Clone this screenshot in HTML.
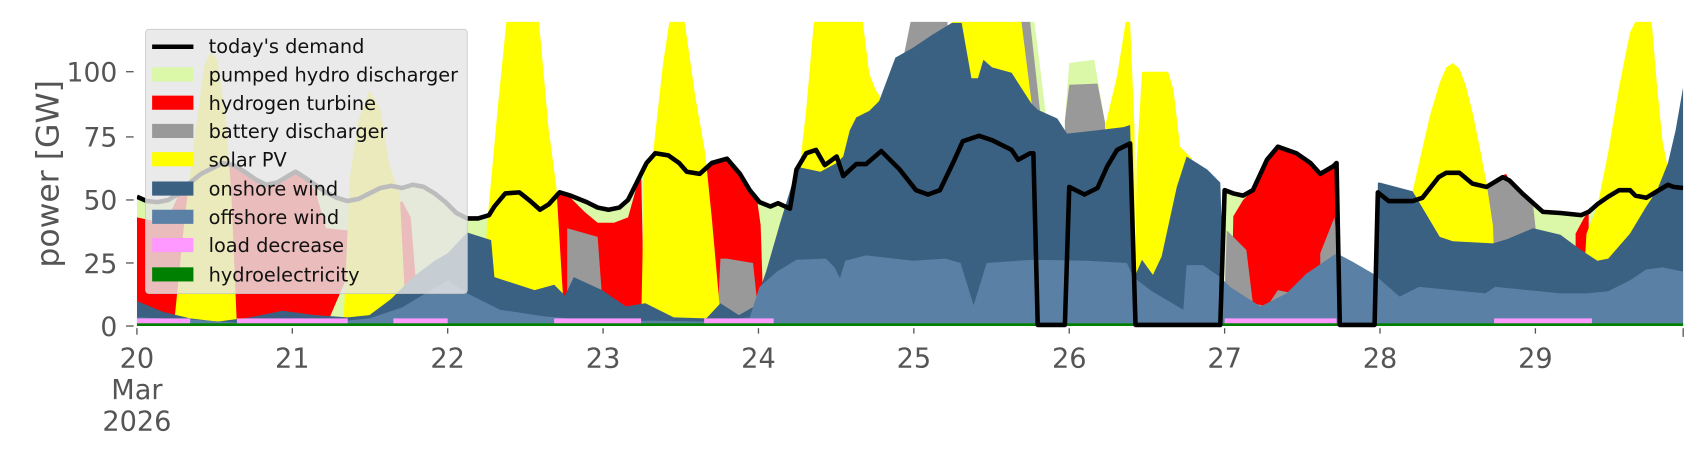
<!DOCTYPE html>
<html><head><meta charset="utf-8"><style>
html,body{margin:0;padding:0;background:#fff;}
svg{display:block;}
text{font-family:"DejaVu Sans","Liberation Sans",sans-serif;}
</style></head><body>
<svg width="1706" height="460" viewBox="0 0 1570 423.3" preserveAspectRatio="none" xmlns="http://www.w3.org/2000/svg">
<defs><clipPath id="pa"><rect x="126" y="20" width="1423" height="282"/></clipPath></defs>
<g clip-path="url(#pa)">
<g fill="#dbf7a8">
<polygon points="126,300 126,181 135,185 145,186 155,184 165,178 175,168 185,160 195,155 205,150 215,152 225,158 235,165 245,170 255,168 265,162 272,158 280,163 290,170 300,177 310,182 320,185 330,183 340,178 350,173 360,171 370,173 380,170 390,172 400,178 410,186 420,196 430,201 440,201 450,198 455,190 465,178 478,177 488,185 497,193 505,188 515,177 525,180 540,186 550,191 560,193 570,191 578,184 585,170 595,150 603,141 615,143 625,150 632,158 644,160 655,150 669,146 681,160 690,175 699,186 709,190 716,187 727,192 733,156 742,141 751,138 759,152 770,144 776,162 788,151 797,151 811,139 828,156 843,175 854,179 865,175 877,150 886,130 901,125 913,129 931,138 937,147 948,141 951,141 953,300"/>
<polygon points="984,300 984,172 998,179 1010,173 1019,153 1028,138 1040,132 1042,300"/>
<polygon points="1127,300 1127,175 1135,178 1144,180 1153,175 1166,147 1176,135 1193,141 1206,150 1215,160 1227,153 1230,150 1232,300"/>
<polygon points="1268,300 1268,177 1278,185 1300,185 1309,182 1324,163 1331,159 1343,159 1355,169 1368,172 1383,163 1389,166 1401,178 1420,195 1436,196 1455,198 1462,195 1470,188 1480,181 1490,175 1500,175 1505,180 1515,182 1525,176 1535,170 1540,172 1549,173 1549,300"/>
<polygon points="980,300 980,111 984,58 1007,55 1017,113 1017,300"/>
<polygon points="945,20 952,20 962,101 962,300 945,300"/>
</g>
<g fill="#ff0000">
<polygon points="126,300 126,200 140,203 155,200 165,178 175,168 185,160 195,155 205,150 215,152 225,158 235,165 245,170 255,168 265,162 272,158 280,163 290,175 300,210 320,212 330,230 300,300"/>
<polygon points="360,300 362,190 370,185 378,200 386,300"/>
<polygon points="510,300 512,178 525,182 538,195 550,205 565,205 578,200 585,175 590,156 593,300"/>
<polygon points="645,300 645,160 655,150 669,146 681,160 690,175 697,186 700,207 703,300"/>
<polygon points="1133,300 1135,199 1144,184 1153,175 1166,147 1176,135 1193,141 1206,150 1215,160 1227,153 1230,150 1233,300"/>
<polygon points="1377,300 1377,164 1386,160 1394,174 1394,300"/>
<polygon points="1450,300 1450,215 1458,200 1462,195 1462,300"/>
</g>
<g fill="#999999">
<polygon points="522,300 522,210 550,218 556,300"/>
<polygon points="660,300 663,238 669,238 693,242 697,280 697,300"/>
<polygon points="830,300 830,60 838,20 872,20 875,300"/>
<polygon points="937,300 937,20 948,20 957,101 957,300"/>
<polygon points="980,300 980,111 984,78 1010,77 1017,113 1017,300"/>
<polygon points="1126,300 1129,212 1147,230 1153,279 1166,282 1176,267 1190,270 1190,300"/>
<polygon points="1215,300 1215,233 1228,200 1232,235 1232,300"/>
<polygon points="1365,300 1365,172 1368,172 1383,163 1389,166 1401,178 1411,190 1414,218 1405,300"/>
</g>
<g fill="#ffff00">
<polygon points="160,300 170,200 180,120 188,60 194,48 200,55 208,110 213,180 218,300"/>
<polygon points="316,300 322,163 330,110 340,83 350,100 358,150 368,181 374,300"/>
<polygon points="445,300 448,209 458,100 466,20 496,20 505,120 512,172 517,255 520,300"/>
<polygon points="590,300 593,150 601,141 610,60 616,20 630,20 640,90 649,141 655,200 663,290 663,300"/>
<polygon points="733,300 736,153 742,100 749,20 794,20 800,68 806,83 810,89 810,300"/>
<polygon points="876,300 876,20 940,20 950,100 950,300"/>
<polygon points="1015,300 1017,116 1028,70 1036,20 1040,20 1044,117 1045,300"/>
<polygon points="1044,300 1046,150 1051,66 1075,66 1080,83 1086,135 1097,146 1100,300"/>
<polygon points="1300,300 1300,176 1316,106 1325,76 1331,62 1337,58 1343,63 1349,79 1356,107 1362,137 1368,168 1374,208 1377,300"/>
<polygon points="1455,300 1460,215 1470,190 1480,140 1490,80 1500,30 1505,20 1520,20 1525,80 1530,130 1536,160 1536,300"/>
</g>
<polygon fill="#3b6182" points="126,300 126,277 150,287 175,293 200,296 230,292 260,286 290,290 320,292 340,290 360,275 380,255 400,240 412,233 430,214 452,221 455,255 492,267 510,262 520,272 528,255 554,267 576,282 594,279 620,292 650,293 663,279 680,290 694,282 705,250 718,205 733,156 736,154 755,158 770,150 776,144 782,120 788,108 800,102 809,93 824,53 840,44 858,32 876,21 885,21 894,72 900,72 905,55 913,62 931,67 949,95 955,101 973,109 982,123 1009,120 1034,117 1040,115 1044,255 1051,239 1061,253 1069,236 1083,172 1092,144 1111,156 1123,168 1126,255 1128,300 1267,300 1268,168 1270,168 1300,176 1325,218 1337,222 1374,224 1387,220 1411,210 1436,216 1455,230 1470,240 1480,238 1500,215 1515,190 1525,175 1535,150 1542,120 1549,80 1549,300"/>
<polygon fill="#5b80a5" points="126,300 126,292 175,294 220,297 300,297 340,293 370,283 395,268 412,258 430,270 460,285 500,291 555,296 600,295 650,296 690,292 699,264 715,250 733,239 760,238 768,246 773,256 778,240 797,235 840,240 870,238 884,242 896,281 908,242 951,239 1000,240 1037,242 1043,255 1060,268 1089,285 1092,244 1107,244 1123,255 1132,264 1160,282 1184,270 1202,252 1230,233 1245,241 1264,252 1288,273 1306,264 1367,270 1376,264 1436,270 1460,270 1480,268 1500,258 1515,248 1530,246 1549,250 1549,300"/>
<g fill="#ff99ff">
<rect x="126" y="293" width="49" height="7"/><rect x="218" y="293" width="102" height="7"/><rect x="362" y="293" width="50" height="7"/><rect x="510" y="293" width="80" height="7"/><rect x="648" y="293" width="64" height="7"/><rect x="1127" y="293" width="103" height="7"/><rect x="1375" y="293" width="90" height="7"/>
</g>
<rect x="126" y="297.5" width="1423" height="2.5" fill="#008000"/>
<polyline fill="none" stroke="#000" stroke-width="4.2" stroke-linejoin="round" points="126,181 135,185 145,186 155,184 165,178 175,168 185,160 195,155 205,150 215,152 225,158 235,165 245,170 255,168 265,162 272,158 280,163 290,170 300,177 310,182 320,185 330,183 340,178 350,173 360,171 370,173 380,170 390,172 400,178 410,186 420,196 430,201 440,201 450,198 455,190 465,178 478,177 488,185 497,193 505,188 515,177 525,180 540,186 550,191 560,193 570,191 578,184 585,170 595,150 603,141 615,143 625,150 632,158 644,160 655,150 669,146 681,160 690,175 699,186 709,190 716,187 727,192 733,156 742,141 751,138 759,152 770,144 776,162 788,151 797,151 811,139 828,156 843,175 854,179 865,175 877,150 886,130 901,125 913,129 931,138 937,147 948,141 951,141 955,299 980,299 984,172 998,179 1010,173 1019,153 1028,138 1040,132 1045,299 1123,299 1127,175 1135,178 1144,180 1153,175 1166,147 1176,135 1193,141 1206,150 1215,160 1227,153 1230,150 1233,299 1265,299 1268,177 1278,185 1300,185 1309,182 1324,163 1331,159 1343,159 1355,169 1368,172 1383,163 1389,166 1401,178 1420,195 1436,196 1455,198 1462,195 1470,188 1480,181 1490,175 1500,175 1505,180 1515,182 1525,176 1535,170 1540,172 1549,173"/>
</g>
<rect x="134" y="27" width="296" height="243" rx="3" fill="#e5e5e5" fill-opacity="0.82" stroke="#cccccc" stroke-width="0.8"/>
<g font-size="17.8" fill="#111">
<line x1="140" y1="43" x2="178" y2="43" stroke="#000" stroke-width="4.2"/>
<text x="192" y="49">today's demand</text>
<rect x="140" y="62" width="38" height="13" fill="#dbf7a8"/><text x="192" y="75">pumped hydro discharger</text>
<rect x="140" y="88" width="38" height="13" fill="#ff0000"/><text x="192" y="101">hydrogen turbine</text>
<rect x="140" y="114" width="38" height="13" fill="#999999"/><text x="192" y="127">battery discharger</text>
<rect x="140" y="140" width="38" height="13" fill="#ffff00"/><text x="192" y="153">solar PV</text>
<rect x="140" y="167" width="38" height="13" fill="#3b6182"/><text x="192" y="180">onshore wind</text>
<rect x="140" y="193" width="38" height="13" fill="#5b80a5"/><text x="192" y="206">offshore wind</text>
<rect x="140" y="219" width="38" height="13" fill="#ff99ff"/><text x="192" y="232">load decrease</text>
<rect x="140" y="246" width="38" height="13" fill="#008000"/><text x="192" y="259">hydroelectricity</text>
</g>
<g fill="#555" font-size="24.5" text-anchor="end">
<text x="108" y="309">0</text><text x="108" y="251">25</text><text x="108" y="193">50</text><text x="108" y="135">75</text><text x="108" y="75">100</text>
</g>
<g stroke="#555" stroke-width="1.2">
<line x1="116" y1="300" x2="123" y2="300"/><line x1="116" y1="242" x2="123" y2="242"/><line x1="116" y1="184" x2="123" y2="184"/><line x1="116" y1="126" x2="123" y2="126"/><line x1="116" y1="66" x2="123" y2="66"/>
<line x1="126" y1="302" x2="126" y2="308"/><line x1="269" y1="302" x2="269" y2="307"/><line x1="412" y1="302" x2="412" y2="307"/><line x1="555" y1="302" x2="555" y2="307"/><line x1="698" y1="302" x2="698" y2="307"/><line x1="841" y1="302" x2="841" y2="307"/><line x1="984" y1="302" x2="984" y2="307"/><line x1="1127" y1="302" x2="1127" y2="307"/><line x1="1270" y1="302" x2="1270" y2="307"/><line x1="1413" y1="302" x2="1413" y2="307"/><line x1="1549" y1="302" x2="1549" y2="310"/>
</g>
<text x="44" y="160" fill="#555" font-size="29" text-anchor="middle" transform="rotate(-90 44 160)" dy="10">power [GW]</text>
<g fill="#555" font-size="25" text-anchor="middle">
<text x="126" y="338">20</text><text x="126" y="367">Mar</text><text x="126" y="396">2026</text>
<text x="269" y="338">21</text><text x="412" y="338">22</text><text x="555" y="338">23</text><text x="698" y="338">24</text><text x="841" y="338">25</text><text x="984" y="338">26</text><text x="1127" y="338">27</text><text x="1270" y="338">28</text><text x="1413" y="338">29</text>
</g>
</svg>
</body></html>
